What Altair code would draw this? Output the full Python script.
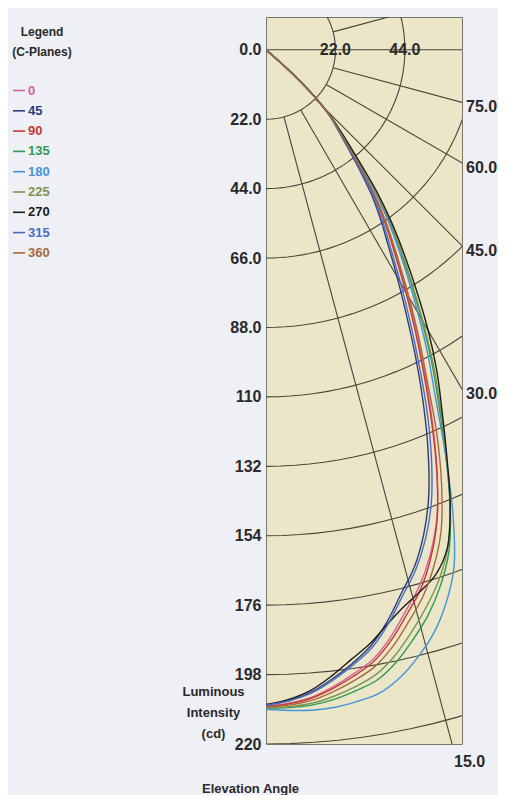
import altair as alt
import pandas as pd

# ---------------- data ----------------
planes = ["0", "45", "90", "135", "180", "225", "270", "315", "360"]
plane_colors = ["#d8609a", "#2c3c7c", "#c53a32", "#2f9a55", "#4593d8",
                "#7d9450", "#1c1c1c", "#4a6cc4", "#a86a3c"]

# angle from nadir (degrees)
angles = [0, 2, 4, 6, 8, 10, 12, 14, 16, 18, 20, 22, 24, 26, 28, 30, 32, 34,
          36, 38, 40, 42, 44, 46, 48, 50]

cd_0 = [208.0, 207.2, 205.7, 203.0, 199.7, 196.0, 190.2, 183.2, 176.6, 168.3, 158.2, 144.8, 129.8,
        115.2, 101.9, 89.6, 78.7, 69.5, 60.6, 51.0, 41.8, 34.9, 29.3, 21.3, 10.6, 0]
cd_45 = [207.7, 206.4, 204.1, 200.5, 196.4, 191.7, 185.1, 177.4, 170.5, 161.6, 150.7, 137.1, 122.5,
         108.0, 94.5, 83.0, 73.0, 65.0, 57.0, 48.0, 40.0, 34.0, 29.0, 21.0, 10.0, 0]
cd_90 = [208.1, 207.4, 206.0, 203.5, 200.4, 196.8, 191.2, 184.4, 177.8, 169.1, 158.5, 144.5, 129.0,
         114.0, 100.6, 88.5, 77.8, 68.8, 60.0, 50.5, 41.5, 34.8, 29.3, 21.3, 10.5, 0]
cd_135 = [208.6, 208.6, 208.2, 207.0, 205.1, 202.8, 198.4, 192.6, 186.4, 178.7, 169.4, 155.8, 139.8,
          124.8, 111.7, 98.4, 86.3, 75.5, 65.4, 55.0, 44.2, 36.1, 29.7, 21.7, 11.4, 0]
cd_180 = [209.0, 209.5, 209.8, 209.5, 208.5, 207.0, 203.5, 198.5, 192.5, 184.5, 174.2, 158.0, 139.5,
          122.4, 109.2, 96.2, 84.4, 74.0, 64.2, 54.0, 43.6, 35.8, 29.6, 21.6, 11.2, 0]
cd_225 = [208.5, 208.3, 207.6, 206.0, 203.8, 201.0, 196.3, 190.3, 183.9, 176.9, 168.3, 155.5, 140.3,
          126.0, 112.9, 99.5, 87.3, 76.3, 66.0, 55.5, 44.5, 36.3, 29.8, 21.8, 11.5, 0]
cd_270 = [207.5, 206.0, 203.5, 199.5, 195.0, 190.9, 185.9, 181.6, 178.3, 174.6, 168.0, 155.8, 140.8,
          127.2, 115.3, 102.8, 90.1, 78.5, 67.8, 57.0, 45.4, 36.7, 29.9, 21.9, 11.8, 0]
cd_315 = [207.7, 206.5, 204.4, 201.0, 197.0, 192.6, 186.1, 178.5, 171.7, 163.3, 153.1, 140.0, 125.5,
          110.4, 97.0, 85.2, 74.9, 66.5, 58.2, 49.0, 40.6, 34.3, 29.1, 21.1, 10.2, 0]
cd_360 = [208.3, 207.8, 206.7, 204.5, 201.8, 198.5, 193.3, 186.8, 180.3, 172.1, 162.2, 148.5, 133.0,
          116.4, 103.1, 90.7, 79.7, 70.3, 61.2, 51.5, 42.1, 35.0, 29.4, 21.4, 10.7, 0]

cd_by_plane = {"0": cd_0, "45": cd_45, "90": cd_90, "135": cd_135, "180": cd_180,
               "225": cd_225, "270": cd_270, "315": cd_315, "360": cd_360}

circle_radii = [22, 44, 66, 88, 110, 132, 154, 176, 198, 220]
circle_sweep = list(range(0, 181, 2))
spoke_angles = [15, 30, 45, 60, 75, 90, 105, 120, 135, 150, 165]
spoke_inner = 22
spoke_outer = 300
ring_labels = [22, 44]
angle_labels = [75, 60, 45, 30, 15]
y_ticks = [0, 22, 44, 66, 88, 110, 132, 154, 176, 198, 220]
legend_title = ["Legend", "(C-Planes)"]

X_MAX = 62.1
Y_TOP = -10.4
Y_BOT = 220

FONT = "Liberation Sans"
TEXT = "#2a2a2a"
GRID = "#45453a"
NUM_SIZE = 16

# ---------------- tables ----------------
curves = pd.DataFrame([{"plane": p, "angle": a, "cd": v}
                       for p in planes for a, v in zip(angles, cd_by_plane[p])])
circles = pd.DataFrame([{"radius": r, "theta": t} for r in circle_radii for t in circle_sweep])
spokes = pd.DataFrame([{"angle": a, "r": (0 if a == 90 else spoke_inner), "end": 0} for a in spoke_angles]
                      + [{"angle": a, "r": spoke_outer, "end": 1} for a in spoke_angles])
rings = pd.DataFrame({"r": ring_labels})
alabels = pd.DataFrame({"a": angle_labels})

xscale = alt.Scale(domain=[0, X_MAX], nice=False, zero=False)
yscale = alt.Scale(domain=[Y_TOP, Y_BOT], reverse=True, nice=False, zero=False)

xaxis = alt.Axis(title="Elevation Angle", labels=False, ticks=False, domain=False, grid=False,
                 titleFont=FONT, titleFontSize=13, titleFontWeight="bold", titleColor=TEXT,
                 titleX=-16, titleY=44, titleAlign="center", titleBaseline="middle")
yaxis = alt.Axis(title=["Luminous", "Intensity", "(cd)"], values=y_ticks,
                 labelExpr="datum.value < 100 ? format(datum.value, '.1f') : format(datum.value, 'd')",
                 labelFont=FONT, labelFontSize=NUM_SIZE, labelFontWeight="bold", labelColor=TEXT,
                 labelPadding=5, ticks=False, domain=False, grid=False,
                 titleFont=FONT, titleFontSize=13, titleFontWeight="bold", titleColor=TEXT,
                 titleAngle=0, titleAlign="center", titleBaseline="middle",
                 titleX=-53, titleY=674, titleLineHeight=21)


def xy():
    return dict(x=alt.X("x:Q", scale=xscale, axis=xaxis),
                y=alt.Y("y:Q", scale=yscale, axis=yaxis))


circle_layer = alt.Chart(circles).transform_calculate(
    x="datum.radius * sin(datum.theta * PI / 180)",
    y="datum.radius * cos(datum.theta * PI / 180)",
).mark_line(clip=True, color=GRID, strokeWidth=1.1).encode(
    **xy(), detail="radius:N", order="theta:Q")

spoke_layer = alt.Chart(spokes).transform_calculate(
    x="datum.r * sin(datum.angle * PI / 180)",
    y="datum.r * cos(datum.angle * PI / 180)",
).mark_line(clip=True, color=GRID, strokeWidth=1.1).encode(
    **xy(), detail="angle:N", order="end:Q")

curve_layer = alt.Chart(curves).transform_calculate(
    x="datum.cd * sin(datum.angle * PI / 180)",
    y="datum.cd * cos(datum.angle * PI / 180)",
).mark_line(clip=True, strokeWidth=1.4, interpolate="catmull-rom").encode(
    **xy(),
    color=alt.Color("plane:N", scale=alt.Scale(domain=planes, range=plane_colors),
                    legend=alt.Legend(
                        title=None, orient="none", legendX=-254, legendY=66.5,
                        symbolType="stroke", symbolSize=144,
                        symbolStrokeWidth=1.6, labelFont=FONT, labelFontSize=13,
                        labelFontWeight="bold", labelOffset=2,
                        labelColor={"expr": "scale('color', datum.value)"},
                        rowPadding=6.3, padding=0)),
    order="angle:Q")

legend_title_layer = alt.Chart(pd.DataFrame({"t": [0]})).mark_text(
    text=legend_title, font=FONT, fontSize=12, fontWeight="bold", color=TEXT,
    align="center", baseline="middle", lineHeight=20,
).encode(x=alt.value(-224), y=alt.value(15.3))

ring_layer = alt.Chart(rings).transform_calculate(
    x="datum.r", y="0", label="format(datum.r, '.1f')",
).mark_text(font=FONT, fontSize=NUM_SIZE, fontWeight="bold", color=TEXT, baseline="middle").encode(
    **xy(), text="label:N")

edge_labels = alt.Chart(alabels).transform_calculate(
    x=f"min({X_MAX}, {Y_BOT} * tan(datum.a * PI / 180))",
    y=f"min({Y_BOT}, {X_MAX} / tan(datum.a * PI / 180))",
    label="format(datum.a, '.1f')",
)
right_labels = edge_labels.transform_filter(f"datum.y < {Y_BOT}").mark_text(
    font=FONT, fontSize=NUM_SIZE, fontWeight="bold", color=TEXT, align="left", baseline="middle",
    dx=4, dy=5).encode(**xy(), text="label:N")
bottom_labels = edge_labels.transform_filter(f"datum.y >= {Y_BOT}").mark_text(
    font=FONT, fontSize=NUM_SIZE, fontWeight="bold", color=TEXT, align="left", baseline="middle",
    dx=2, dy=18).encode(**xy(), text="label:N")

chart = alt.layer(
    circle_layer, spoke_layer, curve_layer, ring_layer, right_labels, bottom_labels,
    legend_title_layer
).properties(
    width=196, height=727, background="#eff0f5",
    padding={"left": 4, "top": 9, "right": 0, "bottom": 0},
).configure_view(fill="#ebe6c8", stroke="#77776a", strokeWidth=1)

chart.save("out.html", embed_options={"renderer": "svg", "actions": False})
